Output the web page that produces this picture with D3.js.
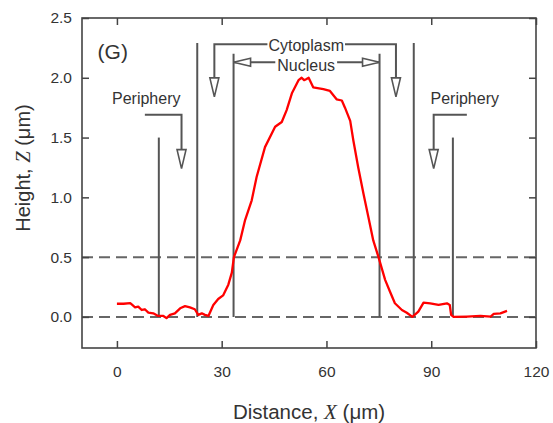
<!DOCTYPE html>
<html>
<head>
<meta charset="utf-8">
<script src="https://cdn.jsdelivr.net/npm/d3@7"></script>
<style>
  html, body { margin: 0; padding: 0; background: #fff; }
  svg { display: block; }
  text { font-family: "Liberation Sans", Arial, sans-serif; fill: #333; }
</style>
</head>
<body>
<svg id="chart" width="553" height="423"></svg>
<script>
// ---- data ----
const profileX = [0, 1.9, 3.8, 4.4, 5.2, 6.1, 7.1, 8.0, 9.0, 10.4, 11.8, 13.3, 14.2, 15.2, 16.6, 18.1, 19.5, 20.9, 22.3, 23.3,
  24.3, 25.2, 26.2, 27.6, 29.0, 30.4, 31.9, 32.9, 33.5, 35.3, 36.7, 38.6, 40.0, 42.4, 45.3, 47.2, 48.6, 50.1, 52.0, 52.9,
  53.6, 54.3, 54.9, 56.2, 59.1, 61.0, 62.9, 64.4, 65.3, 66.8, 67.7, 69.1, 70.6, 72.0, 73.4, 74.9, 76.8, 78.2, 79.6, 81.6,
  83.0, 84.6, 86.3, 87.8, 89.7, 92.1, 94.5, 95.3, 95.7, 96.4, 100.2, 104.1, 107.0, 107.9, 109.8, 111.7];
const profileZ = [0.11, 0.11, 0.115, 0.10, 0.08, 0.086, 0.058, 0.064, 0.036, 0.03, 0.008, 0.008, -0.01, 0.017, 0.03, 0.072, 0.09, 0.08, 0.064, 0.017,
  0.03, 0.017, 0.008, 0.1, 0.15, 0.18, 0.27, 0.37, 0.5, 0.64, 0.81, 0.975, 1.17, 1.42, 1.59, 1.63, 1.73, 1.87, 1.98, 2.0,
  1.98, 1.99, 2.0, 1.92, 1.905, 1.89, 1.82, 1.81, 1.75, 1.64, 1.475, 1.25, 1.03, 0.835, 0.64, 0.5, 0.31, 0.21, 0.114, 0.058,
  0.035, 0.0, 0.044, 0.12, 0.114, 0.1, 0.114, 0.1, 0.017, 0.0, 0.003, 0.008, 0.003, 0.025, 0.03, 0.05];
const xTicks = [0, 30, 60, 90, 120];
const yTicks = [0, 0.5, 1.0, 1.5, 2.0, 2.5];
const dashedLevels = [0, 0.5];
const boundaryX = [12, 23, 33.4, 75.2, 85, 96.2];
const boundaryTop = [1.5, 2.29, 2.2, 2.2, 2.29, 1.5];
const panelLabel = "(G)";
const xTitle = ["Distance, ", "X", " (\u03bcm)"];
const yTitle = ["Height, ", "Z", " (\u03bcm)"];

// ---- layout ----
const svg = d3.select("#chart");
const x = d3.scaleLinear().domain([-10, 120]).range([82, 536]);
const y = d3.scaleLinear().domain([-0.26, 2.5]).range([348, 18]);
const grey = "#555";

svg.append("defs").append("clipPath").attr("id", "clip")
  .append("rect").attr("x", 82).attr("y", 18).attr("width", 454).attr("height", 330);

// dashed reference lines
svg.append("g").selectAll("line").data(dashedLevels).join("line")
  .attr("x1", x.range()[0]).attr("x2", x.range()[1])
  .attr("y1", d => y(d)).attr("y2", d => y(d))
  .attr("stroke", "#666").attr("stroke-width", 2).attr("stroke-dasharray", "11,6");

// boundary vertical lines
svg.append("g").selectAll("line").data(boundaryX).join("line")
  .attr("x1", d => x(d)).attr("x2", d => x(d))
  .attr("y1", y(0)).attr("y2", (d, i) => y(boundaryTop[i]))
  .attr("stroke", grey).attr("stroke-width", 2);

// profile
const pts = profileX.map((d, i) => [d, profileZ[i]]);
svg.append("path").datum(pts)
  .attr("clip-path", "url(#clip)")
  .attr("fill", "none").attr("stroke", "#ff0000").attr("stroke-width", 2.3)
  .attr("stroke-linejoin", "round")
  .attr("d", d3.line().x(d => x(d[0])).y(d => y(d[1])));

// axes (mirrored inward ticks)
const axB = svg.append("g").attr("transform", `translate(0,${y.range()[0]})`)
  .call(d3.axisBottom(x).tickValues(xTicks).tickSizeInner(-7).tickSizeOuter(0).tickPadding(16).tickFormat(d3.format("d")));
const axT = svg.append("g").attr("transform", `translate(0,${y.range()[1]})`)
  .call(d3.axisTop(x).tickValues(xTicks).tickSizeInner(-7).tickSizeOuter(0).tickFormat(""));
const axL = svg.append("g").attr("transform", `translate(${x.range()[0]},0)`)
  .call(d3.axisLeft(y).tickValues(yTicks).tickSizeInner(-7).tickSizeOuter(0).tickPadding(10).tickFormat(d3.format(".1f")));
const axR = svg.append("g").attr("transform", `translate(${x.range()[1]},0)`)
  .call(d3.axisRight(y).tickValues(yTicks).tickSizeInner(-7).tickSizeOuter(0).tickFormat(""));
[axB, axT, axL, axR].forEach(g => {
  g.select(".domain").remove();
  g.selectAll(".tick line").attr("stroke", "#444").attr("stroke-width", 1.5);
  g.selectAll("text").attr("font-family", "Liberation Sans, Arial, sans-serif")
    .attr("font-size", 15.5).attr("fill", "#333");
});
axB.selectAll(".tick text").attr("dy", "0.85em");

// frame
svg.append("rect").attr("x", 82).attr("y", 18).attr("width", 454).attr("height", 330)
  .attr("fill", "none").attr("stroke", "#444").attr("stroke-width", 1.6);

// axis titles
const xt = svg.append("text").attr("x", 309).attr("y", 419).attr("text-anchor", "middle").attr("font-size", 20.5);
xt.append("tspan").text(xTitle[0]);
xt.append("tspan").text(xTitle[1]).attr("font-style", "italic").attr("font-family", "Liberation Serif, serif").attr("font-size", 21);
xt.append("tspan").text(xTitle[2]);
const yt = svg.append("text").attr("transform", "translate(30,168) rotate(-90)").attr("text-anchor", "middle").attr("font-size", 20);
yt.append("tspan").text(yTitle[0]);
yt.append("tspan").text(yTitle[1]).attr("font-style", "italic").attr("font-family", "Liberation Serif, serif").attr("font-size", 20.5);
yt.append("tspan").text(yTitle[2]);

// panel label
svg.append("text").attr("x", x(-1.2)).attr("y", 59).attr("text-anchor", "middle").attr("font-size", 21).text(panelLabel);

// ---- annotations ----
const ann = svg.append("g").attr("stroke", grey).attr("stroke-width", 2).attr("fill", "none");
function downArrow(px, tipY) {
  ann.append("path").attr("d", `M${px - 4.5},${tipY - 19} L${px + 4.5},${tipY - 19} L${px},${tipY} Z`)
    .attr("fill", "#fff").attr("stroke-width", 1.6);
}
function sideArrow(tipX, py, dir) {
  const b = tipX - dir * 17;
  ann.append("path").attr("d", `M${b},${py - 4} L${b},${py + 4} L${tipX},${py} Z`)
    .attr("fill", "#fff").attr("stroke-width", 1.6);
}
function label(txt, cx, cy) {
  return svg.append("text").attr("x", cx).attr("y", cy).attr("text-anchor", "middle")
    .attr("dominant-baseline", "central").attr("font-size", 16).text(txt);
}

// Cytoplasm bracket
const cyY = y(2.28);
const cyL = label("Cytoplasm", x(54.2), cyY + 1);
const cb = cyL.node().getBBox();
ann.append("path").attr("d", `M${cb.x - 1},${cyY} L${x(27.9)},${cyY} L${x(27.9)},${y(1.84) - 15}`);
ann.append("path").attr("d", `M${cb.x + cb.width + 1},${cyY} L${x(79.9)},${cyY} L${x(79.9)},${y(1.84) - 15}`);
downArrow(x(27.9), y(1.84));
downArrow(x(79.9), y(1.84));

// Nucleus double arrow
const nuY = y(2.13);
const nuL = label("Nucleus", x(54.2), nuY + 3);
const nb = nuL.node().getBBox();
ann.append("line").attr("x1", x(33.4)).attr("x2", nb.x - 2).attr("y1", nuY).attr("y2", nuY);
ann.append("line").attr("x1", nb.x + nb.width + 2).attr("x2", x(75.2)).attr("y1", nuY).attr("y2", nuY);
sideArrow(x(33.4), nuY, -1);
sideArrow(x(75.2), nuY, 1);

// Periphery left
label("Periphery", x(8.4), y(1.825));
const pY = y(1.69);
ann.append("path").attr("d", `M${x(8.0)},${pY} L${x(18.5)},${pY} L${x(18.5)},${y(1.24) - 15}`);
downArrow(x(18.5), y(1.24));

// Periphery right
label("Periphery", x(99.6), y(1.825));
ann.append("path").attr("d", `M${x(100.2)},${pY} L${x(90.7)},${pY} L${x(90.7)},${y(1.24) - 15}`);
downArrow(x(90.7), y(1.24));
</script>
</body>
</html>
